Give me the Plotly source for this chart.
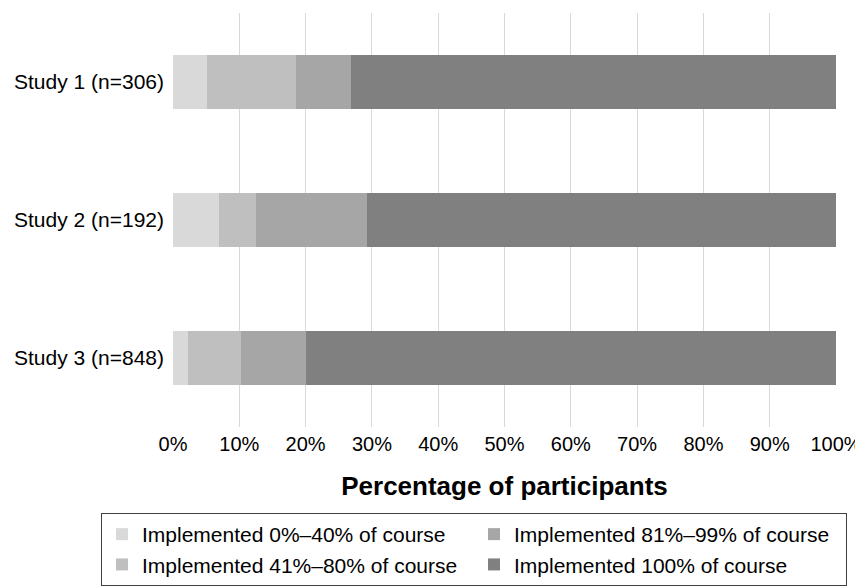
import plotly.graph_objects as go

studies = ["Study 1 (n=306)", "Study 2 (n=192)", "Study 3 (n=848)"]
series_names = [
    "Implemented 0%–40% of course",
    "Implemented 41%–80% of course",
    "Implemented 81%–99% of course",
    "Implemented 100% of course",
]
pct_0_40 = [5.1, 7.0, 2.3]
pct_41_80 = [13.4, 5.5, 8.0]
pct_81_99 = [8.4, 16.7, 9.7]
pct_100 = [73.1, 70.8, 80.0]
colors = ["#d9d9d9", "#bfbfbf", "#a6a6a6", "#808080"]
legend_ranks = [1, 3, 2, 4]
x_ticks = [0, 10, 20, 30, 40, 50, 60, 70, 80, 90, 100]
x_tick_labels = ["0%", "10%", "20%", "30%", "40%", "50%", "60%", "70%", "80%", "90%", "100%"]

fig = go.Figure()
for name, vals, col, rank in zip(series_names, [pct_0_40, pct_41_80, pct_81_99, pct_100], colors, legend_ranks):
    fig.add_trace(go.Bar(
        y=studies, x=vals, name=name, orientation="h",
        marker=dict(color=col, line=dict(width=0)),
        legendrank=rank,
    ))

fig.update_layout(
    barmode="stack",
    bargap=0.61,
    width=863, height=586,
    margin=dict(l=165, r=35, t=5, b=167, autoexpand=False),
    paper_bgcolor="white", plot_bgcolor="white",
    font=dict(family="Liberation Sans, Arial, sans-serif", size=20, color="#000"),
    showlegend=True,
    legend=dict(
        orientation="h",
        x=-0.1086, xanchor="left",
        y=-0.2077, yanchor="top",
        entrywidth=327, entrywidthmode="pixels",
        bordercolor="#404040", borderwidth=1,
        font=dict(size=21, color="#000"),
        itemwidth=30,
        traceorder="normal",
    ),
)
fig.update_xaxes(
    range=[0, 100],
    tickvals=x_ticks,
    ticktext=x_tick_labels,
    showgrid=True, gridcolor="#d9d9d9", gridwidth=1,
    zeroline=False, showline=False, automargin=False,
    ticks="", tickfont=dict(size=20), ticklabelstandoff=3,
    title=dict(text="<b>Percentage of participants</b>", font=dict(size=26), standoff=22),
)
fig.update_yaxes(
    autorange="reversed",
    showgrid=False, zeroline=False, showline=False, automargin=False,
    ticks="", ticklen=0, tickfont=dict(size=21), ticklabelstandoff=8,
)

fig.write_html("out.html")
